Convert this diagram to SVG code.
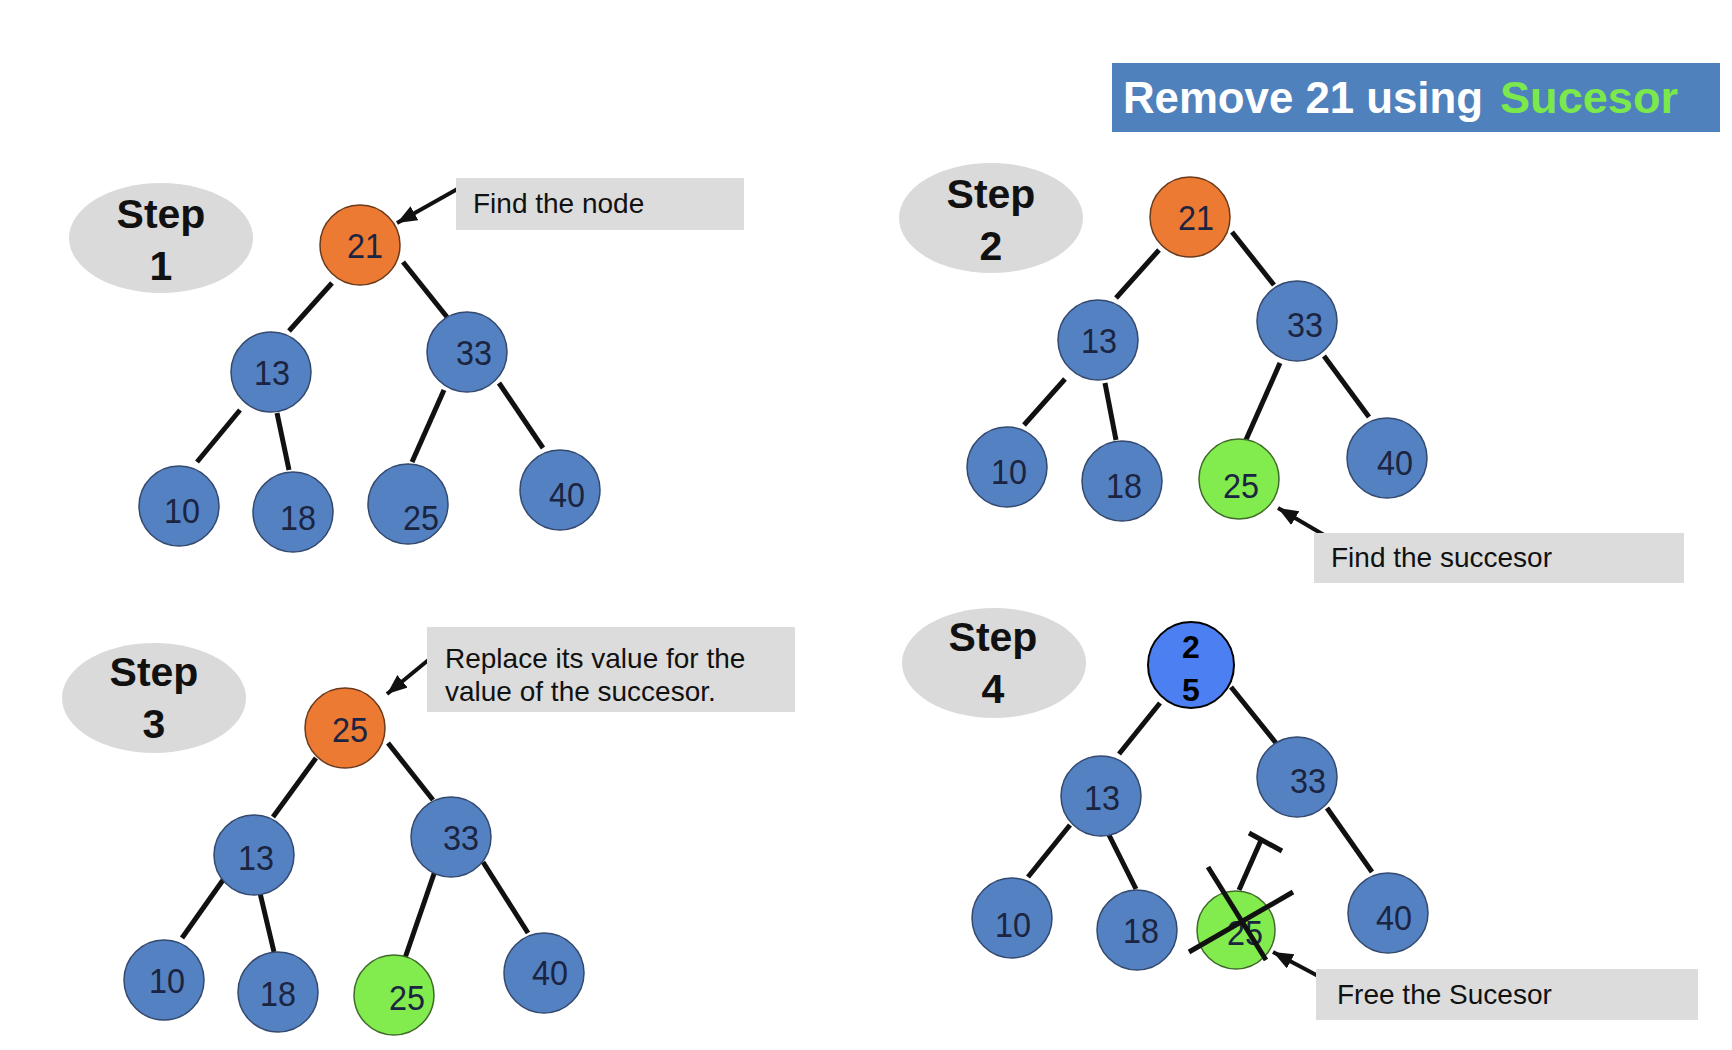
<svg xmlns="http://www.w3.org/2000/svg" width="1732" height="1050" viewBox="0 0 1732 1050">
<defs>
<style>
.bg{fill:#ffffff}
.step{fill:#dadada}
.steptxt{font-family:"Liberation Sans",Arial,sans-serif;font-weight:bold;font-size:41px;fill:#111;text-anchor:middle}
.n{fill:#5481c1;stroke:#34496e;stroke-width:1.5}
.o{fill:#ed7a33;stroke:#6a3a1c;stroke-width:1.5}
.g{fill:#82ec4e;stroke:#3f6a2a;stroke-width:1.5}
.nt{font-family:"Liberation Sans",Arial,sans-serif;font-size:35px;fill:#1b2440;text-anchor:middle}
.e{stroke:#111;stroke-width:5;fill:none;stroke-linecap:butt}
.box{fill:#dcdcdc}
.lbl{font-family:"Liberation Sans",Arial,sans-serif;font-size:28px;fill:#111}
.arr{stroke:#111;stroke-width:4;fill:none;marker-end:url(#ah)}
</style>
<marker id="ah" markerUnits="userSpaceOnUse" markerWidth="22" markerHeight="18" refX="20" refY="8" orient="auto">
<path d="M0,0 L20,8 L0,16 z" fill="#111"/>
</marker>
</defs>
<rect class="bg" x="0" y="0" width="1732" height="1050"/>

<g id="title">
<rect x="1112" y="63" width="608" height="69" fill="#4f81bd"/>
<text x="1123" y="113" font-family="'Liberation Sans',Arial,sans-serif" font-weight="bold" font-size="44" fill="#ffffff" textLength="360" lengthAdjust="spacingAndGlyphs">Remove 21 using</text>
<text x="1500" y="113" font-family="'Liberation Sans',Arial,sans-serif" font-weight="bold" font-size="44" fill="#7be84b" textLength="178" lengthAdjust="spacingAndGlyphs">Sucesor</text>
</g>

<g id="connectors">
<!-- step 1 -->
<line class="e" x1="332" y1="283" x2="289" y2="331"/>
<line class="e" x1="403" y1="262" x2="447" y2="317"/>
<line class="e" x1="240" y1="410" x2="197" y2="462"/>
<line class="e" x1="277" y1="413" x2="289" y2="470"/>
<line class="e" x1="444" y1="390" x2="412" y2="462"/>
<line class="e" x1="499" y1="383" x2="543" y2="448"/>
<!-- step 2 -->
<line class="e" x1="1159" y1="250" x2="1116" y2="298"/>
<line class="e" x1="1232" y1="232" x2="1274" y2="285"/>
<line class="e" x1="1065" y1="379" x2="1024" y2="425"/>
<line class="e" x1="1105" y1="383" x2="1116" y2="440"/>
<line class="e" x1="1280" y1="363" x2="1245" y2="442"/>
<line class="e" x1="1324" y1="356" x2="1369" y2="417"/>
<!-- step 3 -->
<line class="e" x1="316" y1="758" x2="273" y2="817"/>
<line class="e" x1="388" y1="743" x2="433" y2="800"/>
<line class="e" x1="223" y1="880" x2="182" y2="938"/>
<line class="e" x1="260" y1="893" x2="274" y2="952"/>
<line class="e" x1="436" y1="868" x2="405" y2="958"/>
<line class="e" x1="483" y1="862" x2="528" y2="933"/>
<!-- step 4 -->
<line class="e" x1="1160" y1="703" x2="1119" y2="754"/>
<line class="e" x1="1231" y1="687" x2="1276" y2="743"/>
<line class="e" x1="1070" y1="825" x2="1028" y2="877"/>
<line class="e" x1="1108" y1="833" x2="1136" y2="889"/>
<line class="e" x1="1327" y1="808" x2="1372" y2="872"/>
<line class="e" x1="1239" y1="890" x2="1262" y2="838"/>
<line class="e" x1="1249" y1="833" x2="1282" y2="851"/>
<!-- callout arrows -->
<line class="arr" x1="461" y1="187" x2="397" y2="223"/>
<line class="arr" x1="1324" y1="535" x2="1278" y2="508"/>
<line class="arr" x1="432" y1="657" x2="387" y2="694"/>
<line class="arr" x1="1320" y1="977" x2="1273" y2="952"/>
</g>

<!-- STEP 1 -->
<g id="step1-label"><ellipse class="step" cx="161" cy="238" rx="92" ry="55"/><text class="steptxt" x="161" y="228">Step</text><text class="steptxt" x="161" y="280">1</text></g>
<g id="s1-n21"><circle class="o" cx="360" cy="245" r="40"/><text class="nt" x="365" y="258" textLength="36" lengthAdjust="spacingAndGlyphs">21</text></g>
<g id="s1-n13"><circle class="n" cx="271" cy="372" r="40"/><text class="nt" x="272" y="385" textLength="36" lengthAdjust="spacingAndGlyphs">13</text></g>
<g id="s1-n33"><circle class="n" cx="467" cy="352" r="40"/><text class="nt" x="474" y="365" textLength="36" lengthAdjust="spacingAndGlyphs">33</text></g>
<g id="s1-n10"><circle class="n" cx="179" cy="506" r="40"/><text class="nt" x="182" y="523" textLength="36" lengthAdjust="spacingAndGlyphs">10</text></g>
<g id="s1-n18"><circle class="n" cx="293" cy="512" r="40"/><text class="nt" x="298" y="530" textLength="36" lengthAdjust="spacingAndGlyphs">18</text></g>
<g id="s1-n25"><circle class="n" cx="408" cy="504" r="40"/><text class="nt" x="421" y="530" textLength="36" lengthAdjust="spacingAndGlyphs">25</text></g>
<g id="s1-n40"><circle class="n" cx="560" cy="490" r="40"/><text class="nt" x="567" y="507" textLength="36" lengthAdjust="spacingAndGlyphs">40</text></g>
<g id="s1-note"><rect class="box" x="456" y="178" width="288" height="52"/><text class="lbl" x="473" y="213">Find the node</text></g>

<!-- STEP 2 -->
<g id="step2-label"><ellipse class="step" cx="991" cy="218" rx="92" ry="55"/><text class="steptxt" x="991" y="208">Step</text><text class="steptxt" x="991" y="260">2</text></g>
<g id="s2-n21"><circle class="o" cx="1190" cy="217" r="40"/><text class="nt" x="1196" y="230" textLength="36" lengthAdjust="spacingAndGlyphs">21</text></g>
<g id="s2-n13"><circle class="n" cx="1098" cy="340" r="40"/><text class="nt" x="1099" y="353" textLength="36" lengthAdjust="spacingAndGlyphs">13</text></g>
<g id="s2-n33"><circle class="n" cx="1297" cy="321" r="40"/><text class="nt" x="1305" y="337" textLength="36" lengthAdjust="spacingAndGlyphs">33</text></g>
<g id="s2-n10"><circle class="n" cx="1007" cy="467" r="40"/><text class="nt" x="1009" y="484" textLength="36" lengthAdjust="spacingAndGlyphs">10</text></g>
<g id="s2-n18"><circle class="n" cx="1122" cy="481" r="40"/><text class="nt" x="1124" y="498" textLength="36" lengthAdjust="spacingAndGlyphs">18</text></g>
<g id="s2-n25"><circle class="g" cx="1239" cy="479" r="40"/><text class="nt" x="1241" y="498" textLength="36" lengthAdjust="spacingAndGlyphs">25</text></g>
<g id="s2-n40"><circle class="n" cx="1387" cy="458" r="40"/><text class="nt" x="1395" y="475" textLength="36" lengthAdjust="spacingAndGlyphs">40</text></g>
<g id="s2-note"><rect class="box" x="1314" y="533" width="370" height="50"/><text class="lbl" x="1331" y="567">Find the succesor</text></g>

<!-- STEP 3 -->
<g id="step3-label"><ellipse class="step" cx="154" cy="698" rx="92" ry="55"/><text class="steptxt" x="154" y="686">Step</text><text class="steptxt" x="154" y="738">3</text></g>
<g id="s3-n25"><circle class="o" cx="345" cy="728" r="40"/><text class="nt" x="350" y="742" textLength="36" lengthAdjust="spacingAndGlyphs">25</text></g>
<g id="s3-n13"><circle class="n" cx="254" cy="855" r="40"/><text class="nt" x="256" y="870" textLength="36" lengthAdjust="spacingAndGlyphs">13</text></g>
<g id="s3-n33"><circle class="n" cx="451" cy="837" r="40"/><text class="nt" x="461" y="850" textLength="36" lengthAdjust="spacingAndGlyphs">33</text></g>
<g id="s3-n10"><circle class="n" cx="164" cy="980" r="40"/><text class="nt" x="167" y="993" textLength="36" lengthAdjust="spacingAndGlyphs">10</text></g>
<g id="s3-n18"><circle class="n" cx="278" cy="992" r="40"/><text class="nt" x="278" y="1006" textLength="36" lengthAdjust="spacingAndGlyphs">18</text></g>
<g id="s3-n25g"><circle class="g" cx="394" cy="995" r="40"/><text class="nt" x="407" y="1010" textLength="36" lengthAdjust="spacingAndGlyphs">25</text></g>
<g id="s3-n40"><circle class="n" cx="544" cy="973" r="40"/><text class="nt" x="550" y="985" textLength="36" lengthAdjust="spacingAndGlyphs">40</text></g>
<g id="s3-note"><rect class="box" x="427" y="627" width="368" height="85"/><text class="lbl" x="445" y="668">Replace its value for the</text><text class="lbl" x="445" y="701">value of the succesor.</text></g>

<!-- STEP 4 -->
<g id="step4-label"><ellipse class="step" cx="994" cy="663" rx="92" ry="55"/><text class="steptxt" x="993" y="651">Step</text><text class="steptxt" x="993" y="703">4</text></g>
<g id="s4-n25"><circle cx="1191" cy="665" r="43" fill="#4c80f2" stroke="#000" stroke-width="2"/><text x="1191" y="658" font-family="'Liberation Sans',Arial,sans-serif" font-weight="bold" font-size="32" fill="#000" text-anchor="middle">2</text><text x="1191" y="701" font-family="'Liberation Sans',Arial,sans-serif" font-weight="bold" font-size="32" fill="#000" text-anchor="middle">5</text></g>
<g id="s4-n13"><circle class="n" cx="1101" cy="796" r="40"/><text class="nt" x="1102" y="810" textLength="36" lengthAdjust="spacingAndGlyphs">13</text></g>
<g id="s4-n33"><circle class="n" cx="1297" cy="777" r="40"/><text class="nt" x="1308" y="793" textLength="36" lengthAdjust="spacingAndGlyphs">33</text></g>
<g id="s4-n10"><circle class="n" cx="1012" cy="918" r="40"/><text class="nt" x="1013" y="937" textLength="36" lengthAdjust="spacingAndGlyphs">10</text></g>
<g id="s4-n18"><circle class="n" cx="1137" cy="930" r="40"/><text class="nt" x="1141" y="943" textLength="36" lengthAdjust="spacingAndGlyphs">18</text></g>
<g id="s4-n25g"><circle class="g" cx="1236" cy="930" r="39"/><text class="nt" x="1245" y="945" textLength="36" lengthAdjust="spacingAndGlyphs">25</text>
<line class="e" x1="1208" y1="867" x2="1266" y2="960"/><line class="e" x1="1293" y1="892" x2="1189" y2="952"/></g>
<g id="s4-n40"><circle class="n" cx="1388" cy="913" r="40"/><text class="nt" x="1394" y="930" textLength="36" lengthAdjust="spacingAndGlyphs">40</text></g>
<g id="s4-note"><rect class="box" x="1316" y="969" width="382" height="51"/><text class="lbl" x="1337" y="1004">Free the Sucesor</text></g>
</svg>
